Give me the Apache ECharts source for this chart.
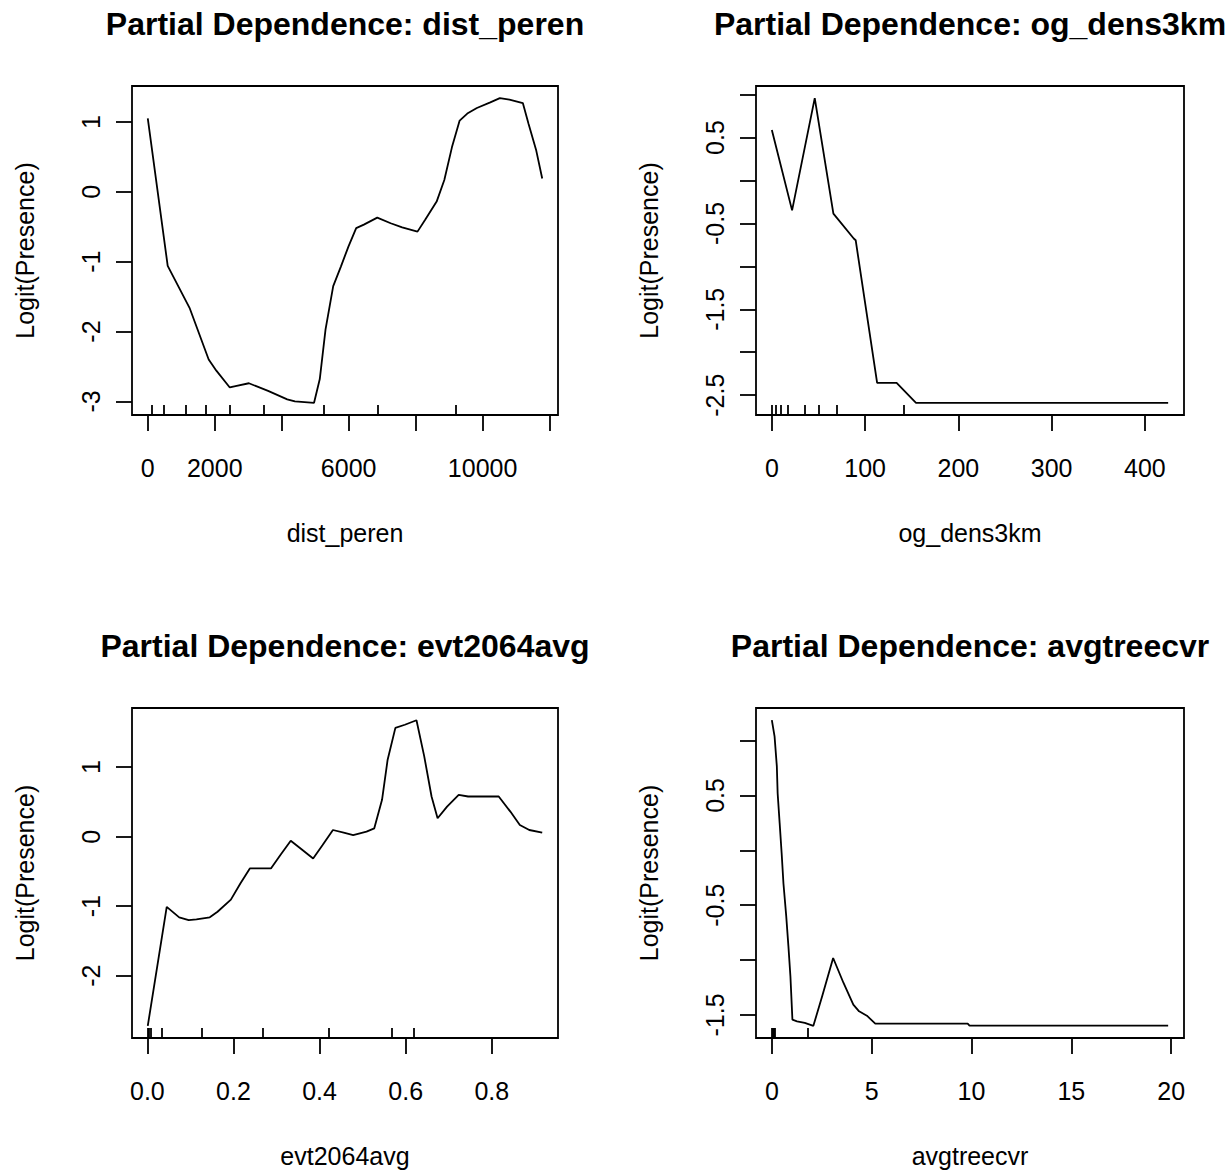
<!DOCTYPE html>
<html><head><meta charset="utf-8">
<script src="https://cdn.jsdelivr.net/npm/echarts@6/dist/echarts.min.js"></script>
<style>html,body{margin:0;padding:0;background:#fff}#c{width:1231px;height:1170px}</style>
</head><body><div id="c"></div>
<script>
// ---------- data ----------
const titles = ['Partial Dependence: dist_peren', 'Partial Dependence: og_dens3km',
                'Partial Dependence: evt2064avg', 'Partial Dependence: avgtreecvr'];
const xNames = ['dist_peren', 'og_dens3km', 'evt2064avg', 'avgtreecvr'];
const yName = 'Logit(Presence)';

const distPerenX = [0, 595, 1247, 1819, 2048, 2449, 2620, 3020, 3593, 4165, 4394, 4966, 5137, 5309, 5538, 5767, 5995, 6224, 6453, 6854, 7254, 7597, 8055, 8284, 8627, 8856, 9085, 9314, 9542, 9828, 10229, 10515, 10801, 11201, 11373, 11602, 11780];
const distPerenY = [1.05, -1.06, -1.66, -2.40, -2.56, -2.80, -2.78, -2.74, -2.85, -2.97, -3.00, -3.02, -2.68, -1.97, -1.35, -1.07, -0.78, -0.52, -0.47, -0.37, -0.45, -0.51, -0.57, -0.40, -0.14, 0.17, 0.64, 1.02, 1.12, 1.20, 1.28, 1.34, 1.32, 1.27, 0.97, 0.59, 0.19];
const distPerenRug = [119, 478, 1134, 1731, 2448, 3463, 5254, 6866, 9194];
const distPerenXTicks = [0, 2000, 4000, 6000, 8000, 10000, 12000];
const distPerenXLabels = [0, 2000, 6000, 10000];
const distPerenYTicks = [-3, -2, -1, 0, 1];
const distPerenYLabels = [-3, -2, -1, 0, 1];

const ogDensX = [0, 21.7, 46, 66, 87.8, 89.9, 112.9, 133.8, 154.6, 425];
const ogDensY = [0.587, -0.348, 0.958, -0.386, -0.676, -0.696, -2.357, -2.357, -2.589, -2.589];
const ogDensRug = [0, 4, 10, 17.5, 35, 50, 70, 141];
const ogDensXTicks = [0, 100, 200, 300, 400];
const ogDensXLabels = [0, 100, 200, 300, 400];
const ogDensYTicks = [-2.5, -2, -1.5, -1, -0.5, 0, 0.5, 1];
const ogDensYLabels = [-2.5, -1.5, -0.5, 0.5];

const evtX = [0.001, 0.045, 0.074, 0.096, 0.114, 0.145, 0.163, 0.194, 0.216, 0.238, 0.287, 0.309, 0.333, 0.358, 0.385, 0.407, 0.431, 0.456, 0.478, 0.509, 0.527, 0.545, 0.558, 0.576, 0.598, 0.625, 0.643, 0.660, 0.674, 0.696, 0.723, 0.745, 0.776, 0.816, 0.843, 0.865, 0.887, 0.917];
const evtY = [-2.72, -1.01, -1.16, -1.20, -1.19, -1.16, -1.08, -0.905, -0.674, -0.457, -0.457, -0.265, -0.058, -0.18, -0.313, -0.12, 0.096, 0.058, 0.024, 0.072, 0.12, 0.53, 1.107, 1.565, 1.61, 1.675, 1.155, 0.578, 0.265, 0.433, 0.602, 0.578, 0.578, 0.578, 0.361, 0.169, 0.096, 0.058];
const evtRug = [0, 0.004, 0.008, 0.034, 0.126, 0.268, 0.422, 0.567, 0.619];
const evtXTicks = [0, 0.2, 0.4, 0.6, 0.8];
const evtXLabels = [0, 0.2, 0.4, 0.6, 0.8];
const evtYTicks = [-2, -1, 0, 1];
const evtYLabels = [-2, -1, 0, 1];

const treeX = [0, 0.136, 0.25, 0.29, 0.39, 0.49, 0.58, 0.72, 0.83, 0.93, 1.03, 1.26, 1.65, 2.08, 2.52, 3.07, 3.59, 4.08, 4.37, 4.76, 5.18, 9.81, 9.9, 19.85];
const treeY = [1.186, 1.039, 0.765, 0.52, 0.25, -0.024, -0.30, -0.60, -0.875, -1.148, -1.543, -1.558, -1.573, -1.599, -1.33, -0.981, -1.209, -1.406, -1.467, -1.507, -1.58, -1.58, -1.598, -1.598];
const treeRug = [0, 0.05, 0.1, 0.15, 1.8];
const treeXTicks = [0, 5, 10, 15, 20];
const treeXLabels = [0, 5, 10, 15, 20];
const treeYTicks = [-1.5, -1, -0.5, 0, 0.5, 1];
const treeYLabels = [-1.5, -0.5, 0.5];

// ---------- layout / style ----------
const boxes = [[132, 86, 426, 329], [756, 86, 428, 329], [132, 708, 426, 330], [756, 708, 428, 330]];
const FONT = '"Liberation Sans", Arial, sans-serif';
const panels = [
  {x: distPerenX, y: distPerenY, rug: distPerenRug, xt: distPerenXTicks, xl: distPerenXLabels, yt: distPerenYTicks, yl: distPerenYLabels, fx: v => String(v)},
  {x: ogDensX, y: ogDensY, rug: ogDensRug, xt: ogDensXTicks, xl: ogDensXLabels, yt: ogDensYTicks, yl: ogDensYLabels, fx: v => String(v)},
  {x: evtX, y: evtY, rug: evtRug, xt: evtXTicks, xl: evtXLabels, yt: evtYTicks, yl: evtYLabels, fx: v => v.toFixed(1)},
  {x: treeX, y: treeY, rug: treeRug, xt: treeXTicks, xl: treeXLabels, yt: treeYTicks, yl: treeYLabels, fx: v => String(v)}
];

function padRange(arr) {
  const lo = Math.min(...arr), hi = Math.max(...arr), p = (hi - lo) * 0.04;
  return [lo - p, hi + p];
}

const grid = [], xAxis = [], yAxis = [], series = [], graphic = [];
const LW = 1.8;
panels.forEach((p, i) => {
  const [l, t, w, h] = boxes[i];
  grid.push({left: l, top: t, width: w, height: h, show: true, borderColor: '#000', borderWidth: LW, backgroundColor: 'transparent'});
  const xr = padRange(p.x), yr = padRange(p.y);
  xAxis.push({
    type: 'value', gridIndex: i, min: xr[0], max: xr[1], position: 'bottom',
    axisLine: {show: false, onZero: false}, splitLine: {show: false},
    axisTick: {show: true, inside: false, length: 16, customValues: p.xt, lineStyle: {color: '#000', width: LW}},
    axisLabel: {show: true, customValues: p.xl, formatter: p.fx, margin: 40, color: '#000', fontSize: 25, lineHeight: 25, fontFamily: FONT, hideOverlap: false}
  });
  // rug axis (deciles of the predictor)
  xAxis.push({
    type: 'value', gridIndex: i, min: xr[0], max: xr[1], position: 'bottom',
    axisLine: {show: false, onZero: false}, splitLine: {show: false}, axisLabel: {show: false},
    axisTick: {show: true, inside: true, length: 10, customValues: p.rug, lineStyle: {color: '#000', width: LW}}
  });
  yAxis.push({
    type: 'value', gridIndex: i, min: yr[0], max: yr[1], position: 'left',
    axisLine: {show: false, onZero: false}, splitLine: {show: false},
    axisTick: {show: true, inside: false, length: 16, customValues: p.yt, lineStyle: {color: '#000', width: LW}},
    axisLabel: {show: true, customValues: p.yl, formatter: v => String(v), rotate: 90, margin: 29, color: '#000', fontSize: 25, lineHeight: 25, fontFamily: FONT, hideOverlap: false}
  });
  series.push({
    type: 'line', xAxisIndex: i * 2, yAxisIndex: i, showSymbol: false, symbol: 'none', animation: false,
    data: p.x.map((v, k) => [v, p.y[k]]),
    lineStyle: {color: '#000', width: LW}
  });
  const cx = l + w / 2, cy = t + h / 2;
  graphic.push({type: 'text', x: cx, y: t - 62, silent: true,
    style: {text: titles[i], font: 'bold 32px ' + FONT, fill: '#000', align: 'center', verticalAlign: 'middle', textAlign: 'center', textVerticalAlign: 'middle'}});
  graphic.push({type: 'text', x: cx, y: t + h + 118, silent: true,
    style: {text: xNames[i], font: '25px ' + FONT, fill: '#000', align: 'center', verticalAlign: 'middle', textAlign: 'center', textVerticalAlign: 'middle'}});
  graphic.push({type: 'text', x: l - 107, y: cy, rotation: Math.PI / 2, silent: true,
    style: {text: yName, font: '25px ' + FONT, fill: '#000', align: 'center', verticalAlign: 'middle', textAlign: 'center', textVerticalAlign: 'middle'}});
});

const chart = echarts.init(document.getElementById('c'), null, {renderer: 'svg'});
chart.setOption({animation: false, backgroundColor: '#fff', grid, xAxis, yAxis, series, graphic});
</script>
</body></html>
